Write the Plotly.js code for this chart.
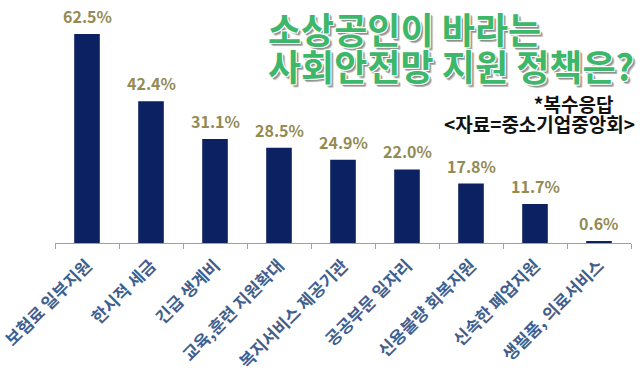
<!DOCTYPE html>
<html>
<head>
<meta charset="utf-8">
<script src="https://cdn.plot.ly/plotly-3.0.1.min.js"></script>
<style>html,body{margin:0;padding:0;background:#fff;}#chart{width:641px;height:380px;}</style>
</head>
<body>
<div id="chart"></div>
<script>
const categories = ['보험료 일부지원','한시적 세금','긴급 생계비','교육,훈련 지원확대','복지서비스 제공기관','공공부문 일자리','신용불량 회복지원','신속한 폐업지원','생필품, 의료서비스'];
const values = [62.5, 42.4, 31.1, 28.5, 24.9, 22.0, 17.8, 11.7, 0.6];
const valueLabels = ['62.5%','42.4%','31.1%','28.5%','24.9%','22.0%','17.8%','11.7%','0.6%'];
const titleLines = ['소상공인이 바라는','사회안전망 지원 정책은?'];
const noteText = '*복수응답';
const sourceText = '<자료=중소기업중앙회>';

const KR = '"Noto Sans CJK KR", "Noto Sans", sans-serif';

const trace = {
  type: 'bar',
  x: categories,
  y: values,
  marker: {color: '#0B2161'},
  hoverinfo: 'none'
};

const valueAnn = categories.map((c, i) => ({
  x: c, y: values[i], xref: 'x', yref: 'y',
  text: valueLabels[i], showarrow: false,
  yanchor: 'bottom', yshift: 4,
  font: {family: KR, size: 16, color: '#948A54', weight: 700}
}));

const titleShadow = '-1px -1px 0 #fff, 1px -1px 0 #fff, -1px 1px 0 #fff, 1px 1px 0 #fff, 2px 2px 1px #8a8a8a, 3px 3px 1px #b0b0b0';
const big = s => '<span style="font-size:36px">' + s + '</span>';
const mid = s => '<span style="font-size:19px">' + s + '</span>';

const layout = {
  width: 641, height: 380,
  margin: {l: 55, r: 10, t: 9, b: 137},
  paper_bgcolor: '#fff', plot_bgcolor: '#fff',
  showlegend: false,
  bargap: 0.6,
  xaxis: {
    type: 'category',
    showline: true, linecolor: '#a0a0a0', linewidth: 1,
    ticks: 'outside', tickson: 'boundaries', ticklen: 5, tickcolor: '#a0a0a0',
    tickangle: -45, ticklabelstandoff: 5,
    tickfont: {family: KR, size: 17, color: '#3F5F8F', weight: 700},
    showgrid: false, zeroline: false, fixedrange: true
  },
  yaxis: {
    range: [0, 70], visible: false, showgrid: false, zeroline: false, fixedrange: true
  },
  annotations: valueAnn.concat([
    {xref: 'paper', yref: 'paper', x: 0.366, y: 0.84, xanchor: 'left', yanchor: 'middle', align: 'left',
     text: big(titleLines[0]) + '<br>' + big(titleLines[1]), showarrow: false,
     font: {family: KR, size: 28.6, color: '#3DB86A', weight: 700, shadow: titleShadow}},
    {xref: 'paper', yref: 'paper', x: 1.0104, y: 0.555, xanchor: 'right', yanchor: 'middle', align: 'right',
     text: mid(noteText + '&nbsp;&nbsp;&nbsp;&nbsp;&nbsp;') + '<br>' + mid(sourceText), showarrow: false,
     font: {family: KR, size: 15.5, color: '#111', weight: 700}}
  ])
};

Plotly.newPlot('chart', [trace], layout, {displayModeBar: false, staticPlot: true});
</script>
</body>
</html>
